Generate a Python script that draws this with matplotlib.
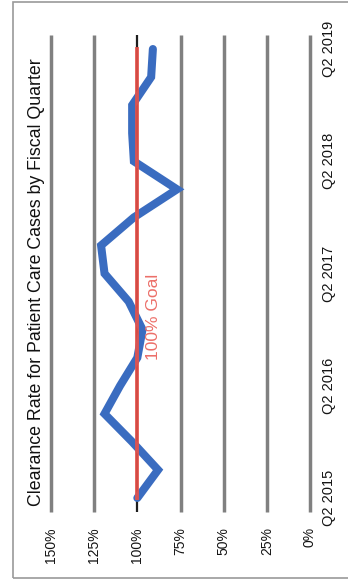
import numpy as np
import matplotlib.pyplot as plt
from matplotlib.patches import Rectangle

plt.rcParams['font.family'] = 'sans-serif'
plt.rcParams['font.sans-serif'] = ['Liberation Sans', 'Arial', 'DejaVu Sans']

# ============================================================
# Data
# ============================================================

quarters = ['Q2 2015', 'Q3 2015', 'Q4 2015', 'Q1 2016',
            'Q2 2016', 'Q3 2016', 'Q4 2016', 'Q1 2017',
            'Q2 2017', 'Q3 2017', 'Q4 2017', 'Q1 2018',
            'Q2 2018', 'Q3 2018', 'Q4 2018', 'Q1 2019',
            'Q2 2019']
clearance = [100, 88, 103, 119, 110, 100, 97, 105, 119, 121,
             102, 77, 102, 103, 103, 92, 91]
goal = 100
pct_ticks = [150, 125, 100, 75, 50, 25, 0]

# ============================================================
# Figure (chart laid out on its side: value runs left->right,
# quarters run bottom->top)
# ============================================================

W, H = 348, 579
fig = plt.figure(figsize=(W / 100, H / 100), dpi=100)
ax = fig.add_axes([51 / W, 1 - 512 / H, 259 / W, 477 / H])

pos = np.arange(len(quarters))
ax.set_xlim(150, 0)
ax.set_ylim(-0.5, len(quarters) - 0.5)

for v in pct_ticks:
    if v == goal:
        ax.vlines(v, -0.5, len(quarters) - 0.5, color='#1e1e1e', lw=1.6,
                  clip_on=False, zorder=1)
    else:
        ax.vlines(v, -0.5, len(quarters) - 0.5, color='#808080', lw=2.5,
                  clip_on=False, zorder=1)

ax.plot(clearance, pos, color='#3a6cc0', lw=5.8,
        solid_joinstyle='miter', solid_capstyle='round', zorder=3)
ax.plot([goal] * len(pos), pos, color='#e8524a', lw=2.8, alpha=0.9, zorder=4)
ax.text(90.5, 6.45, '100% Goal', rotation=90, color='#ec6f69',
        fontsize=12.5, ha='center', va='center', zorder=5)

ax.set_xticks(pct_ticks)
ax.set_xticklabels([f'{v}%' for v in pct_ticks], rotation=90, va='top')
ax.yaxis.tick_right()
ax.set_yticks(pos[::4])
ax.set_yticklabels(quarters[::4], rotation=90, va='center')
ax.tick_params(length=0, colors='#141414')
ax.tick_params(axis='x', pad=11, labelsize=10)
ax.tick_params(axis='y', pad=9, labelsize=10.5)
for s in ax.spines.values():
    s.set_visible(False)

fig.text(37 / W, 1 - 282 / H,
         'Clearance Rate for Patient Care Cases by Fiscal Quarter',
         rotation=90, ha='center', va='center', fontsize=12.8, color='#111111')

# grey frame round the chart
fig.patches.append(Rectangle((13 / W, 1.5 / H), 1.0, 1 - 3.5 / H,
                             transform=fig.transFigure, fill=False,
                             edgecolor='#9a9a9a', lw=1.2))

fig.savefig('out.png', dpi=100)
